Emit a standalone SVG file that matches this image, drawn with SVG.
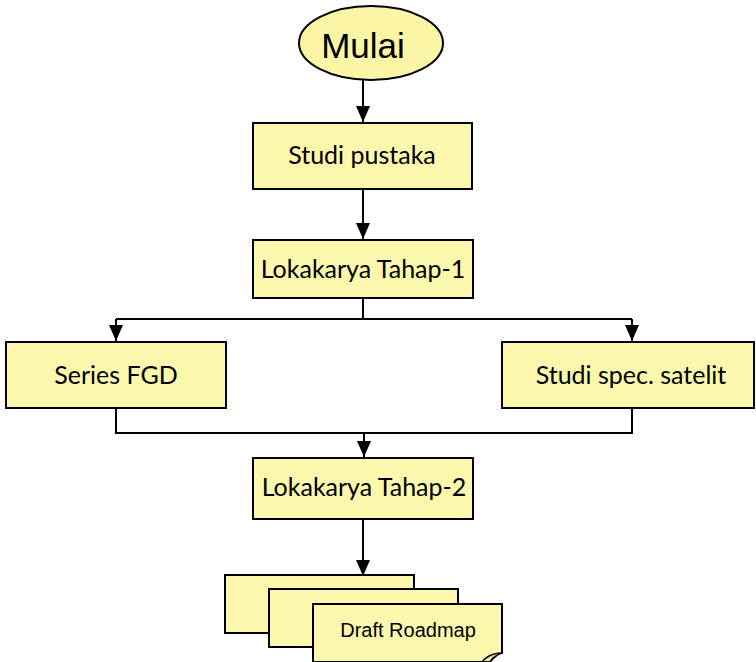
<svg xmlns="http://www.w3.org/2000/svg" width="756" height="662" viewBox="0 0 756 662">
<defs>
<marker id="arr" markerWidth="16" markerHeight="14" refX="16" refY="7" orient="auto" markerUnits="userSpaceOnUse">
<path d="M0,0 L16,7 L0,14 Z" fill="#000"/>
</marker>
<style>
.box{fill:#FBF8AE;stroke:#000;stroke-width:2}
.lbl{font-family:Lato,"Open Sans",sans-serif;font-size:25px;fill:#000;text-anchor:middle}
.con{fill:none;stroke:#000;stroke-width:2}
</style>
</defs>
<rect width="756" height="662" fill="#fff"/>
<g id="connectors">
<path class="con" d="M363,80 V122" marker-end="url(#arr)"/>
<path class="con" d="M363,189 V239" marker-end="url(#arr)"/>
<path class="con" d="M363,298 V319 M116,319 H632 M116,319 V341" marker-end="url(#arr)"/>
<path class="con" d="M632,319 V341" marker-end="url(#arr)"/>
<path class="con" d="M116,408 V433 H632 V408 M364,433 V457" marker-end="url(#arr)"/>
<path class="con" d="M363,519 V576" marker-end="url(#arr)"/>
</g>
<g id="mulai">
<ellipse cx="371" cy="43" rx="72" ry="37" fill="#FBF5A6" stroke="#000" stroke-width="2"/>
<text x="363" y="58" font-family="'Liberation Sans',Arial,sans-serif" font-size="35" text-anchor="middle">Mulai</text>
</g>
<g id="studi-pustaka">
<rect class="box" x="253" y="123" width="219" height="66"/>
<text class="lbl" x="362" y="164">Studi pustaka</text>
</g>
<g id="lokakarya-1">
<rect class="box" x="253" y="240" width="220" height="58"/>
<text class="lbl" x="363" y="278">Lokakarya Tahap-1</text>
</g>
<g id="series-fgd">
<rect class="box" x="6" y="342" width="220" height="66"/>
<text class="lbl" x="116" y="384">Series FGD</text>
</g>
<g id="studi-spec">
<rect class="box" x="502" y="342" width="252" height="66"/>
<text class="lbl" x="631" y="384">Studi spec. satelit</text>
</g>
<g id="lokakarya-2">
<rect class="box" x="253" y="458" width="220" height="61"/>
<text class="lbl" x="364" y="496">Lokakarya Tahap-2</text>
</g>
<g id="draft-roadmap">
<rect class="box" x="225" y="575" width="189" height="58"/>
<rect class="box" x="269" y="589" width="189" height="58"/>
<path class="box" d="M313,604 H502 V653 Q496,654 490,662 H313 Z"/>
<path d="M482,662 Q488,654 500,653" fill="#D8D48A" stroke="#000" stroke-width="1.5"/>
<text x="408" y="637" font-family="'Liberation Sans',Arial,sans-serif" font-size="20" text-anchor="middle">Draft Roadmap</text>
</g>
</svg>
